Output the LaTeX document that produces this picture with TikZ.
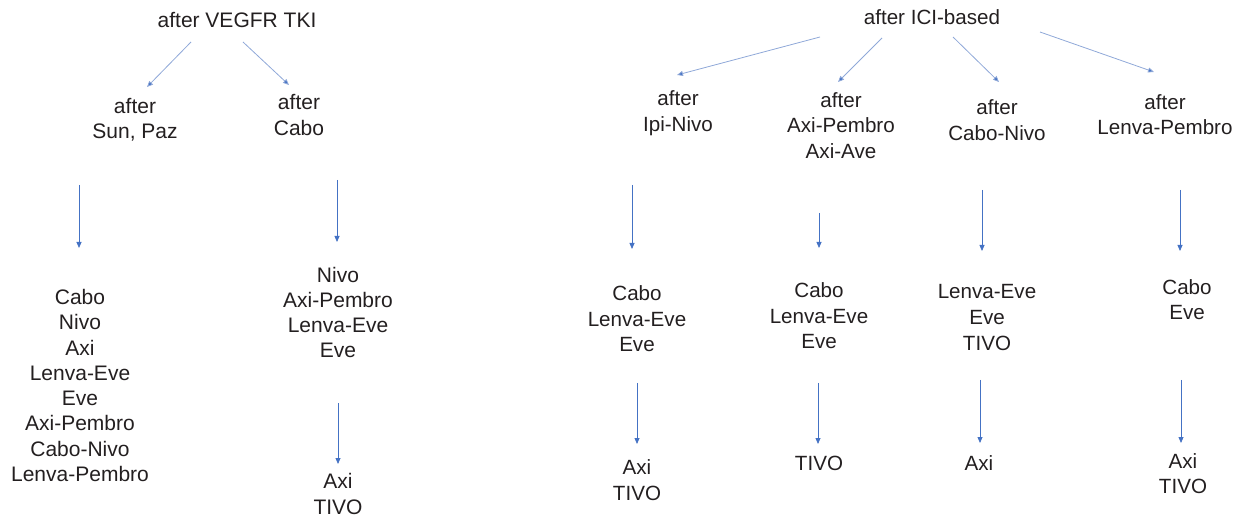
\documentclass[tikz,border=0pt]{standalone}
\usepackage{fontspec}
\setmainfont{Liberation Sans}
\usetikzlibrary{arrows.meta}
\definecolor{arrblue}{HTML}{4472C4}
\definecolor{diagblue}{HTML}{8FA8D8}
\definecolor{txt}{HTML}{231F20}
\tikzset{
  lbl/.style={align=center,inner sep=0pt,text=txt,font=\fontsize{21}{25.3}\selectfont},
  rlbl/.style={align=center,inner sep=0pt,text=txt,font=\fontsize{20.6}{25.6}\selectfont},
  arr/.style={draw=arrblue,line width=0.8pt,-{Triangle[length=6pt,width=5pt]}},
  darr/.style={draw=diagblue,line width=0.8pt,-{Triangle[length=6pt,width=5pt,fill=arrblue]}}
}
\begin{document}
\begin{tikzpicture}[x=1pt,y=-1pt]
\useasboundingbox (0,0) rectangle (1242,518);
% left tree
\node[lbl] (vegf) at (237,20) {after VEGFR TKI};
\node[lbl] (sun) at (135,120) {after\\Sun, Paz};
\node[lbl] (cabo) at (299,115) {after\\Cabo};
\node[lbl] (llist) at (80,385.5) {Cabo\\Nivo\\Axi\\Lenva-Eve\\Eve\\Axi-Pembro\\Cabo-Nivo\\Lenva-Pembro};
\node[lbl] (mlist) at (338,312.5) {Nivo\\Axi-Pembro\\Lenva-Eve\\Eve};
\node[lbl] (mbot) at (338,494) {Axi\\TIVO};
\coordinate (a1s) at (191,42); \coordinate (a1e) at (147,87);
\coordinate (a2s) at (243,42); \coordinate (a2e) at (289,85);
\coordinate (a3s) at (79,185); \coordinate (a3e) at (79,248);
\coordinate (a4s) at (337,180); \coordinate (a4e) at (337,242);
\coordinate (a5s) at (338,403); \coordinate (a5e) at (338,464);
\draw[darr] (a1s) -- (a1e);
\draw[darr] (a2s) -- (a2e);
\draw[arr] (a3s) -- (a3e);
\draw[arr] (a4s) -- (a4e);
\draw[arr] (a5s) -- (a5e);
% right tree
\node[rlbl] (ici) at (932,17) {after ICI-based};
\node[rlbl] (ipi) at (678,113) {after\\Ipi-Nivo};
\node[rlbl] (axip) at (841,125.5) {after\\Axi-Pembro\\Axi-Ave};
\node[rlbl] (cn) at (997,120) {after\\Cabo-Nivo};
\node[rlbl] (lp) at (1165,114.5) {after\\Lenva-Pembro};
\node[rlbl] (r1) at (637,319) {Cabo\\Lenva-Eve\\Eve};
\node[rlbl] (r2) at (819,316) {Cabo\\Lenva-Eve\\Eve};
\node[rlbl] (r3) at (987,317.5) {Lenva-Eve\\Eve\\TIVO};
\node[rlbl] (r4) at (1187,299.5) {Cabo\\Eve};
\node[rlbl] (r1b) at (637,480) {Axi\\TIVO};
\node[rlbl] (r2b) at (819,463) {TIVO};
\node[rlbl] (r3b) at (979,463) {Axi};
\node[rlbl] (r4b) at (1183,473.5) {Axi\\TIVO};
\coordinate (b1s) at (820,37); \coordinate (b1e) at (677,75);
\coordinate (b2s) at (882,38); \coordinate (b2e) at (838,82);
\coordinate (b3s) at (953,37); \coordinate (b3e) at (999,82);
\coordinate (b4s) at (1040,32); \coordinate (b4e) at (1154,72);
\draw[darr] (b1s) -- (b1e);
\draw[darr] (b2s) -- (b2e);
\draw[darr] (b3s) -- (b3e);
\draw[darr] (b4s) -- (b4e);
\coordinate (c1s) at (632,185); \coordinate (c1e) at (632,249);
\coordinate (c2s) at (819,213); \coordinate (c2e) at (819,248);
\coordinate (c3s) at (982,190); \coordinate (c3e) at (982,251);
\coordinate (c4s) at (1180,190); \coordinate (c4e) at (1180,251);
\draw[arr] (c1s) -- (c1e);
\draw[arr] (c2s) -- (c2e);
\draw[arr] (c3s) -- (c3e);
\draw[arr] (c4s) -- (c4e);
\coordinate (d1s) at (637,383); \coordinate (d1e) at (637,444);
\coordinate (d2s) at (818,383); \coordinate (d2e) at (818,444);
\coordinate (d3s) at (980,380); \coordinate (d3e) at (980,443);
\coordinate (d4s) at (1181,380); \coordinate (d4e) at (1181,443);
\draw[arr] (d1s) -- (d1e);
\draw[arr] (d2s) -- (d2e);
\draw[arr] (d3s) -- (d3e);
\draw[arr] (d4s) -- (d4e);
\end{tikzpicture}
\end{document}
